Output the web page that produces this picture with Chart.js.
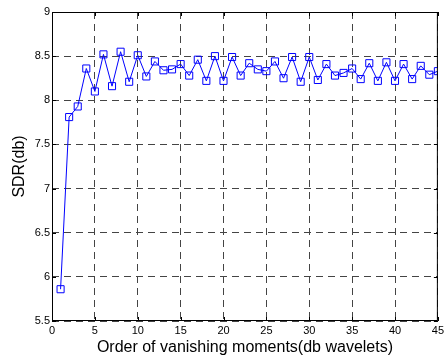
<!DOCTYPE html>
<html>
<head>
<meta charset="utf-8">
<script src="https://cdn.jsdelivr.net/npm/chart.js@4.4.0/dist/chart.umd.min.js"></script>
<style>
  html, body { margin: 0; padding: 0; background: #fff; }
  #wrap { width: 447px; height: 360px; }
</style>
</head>
<body>
<div id="wrap"><canvas id="sdr-chart"></canvas></div>
<script>
    // Data
    var orders = [1, 2, 3, 4, 5, 6, 7, 8, 9, 10, 11, 12, 13, 14, 15, 16, 17, 18, 19, 20, 21, 22, 23,
        24, 25, 26, 27, 28, 29, 30, 31, 32, 33, 34, 35, 36, 37, 38, 39, 40, 41, 42, 43, 44, 45];
    var sdrValues = [5.86, 7.81, 7.93, 8.36, 8.10, 8.52, 8.16, 8.55, 8.21, 8.51, 8.27, 8.44, 8.34, 8.35, 8.41,
        8.28, 8.46, 8.22, 8.50, 8.22, 8.49, 8.28, 8.42, 8.35, 8.33, 8.44, 8.25, 8.49, 8.21, 8.49,
        8.23, 8.41, 8.28, 8.31, 8.36, 8.24, 8.42, 8.22, 8.43, 8.22, 8.41, 8.24, 8.39, 8.29, 8.33];
    var xTicks = [0, 5, 10, 15, 20, 25, 30, 35, 40, 45];
    var yTicks = [5.5, 6, 6.5, 7, 7.5, 8, 8.5, 9];

    var points = orders.map(function (x, i) {
        return {x: x, y: sdrValues[i]};
    });

    // Box around the axes with inward ticks, like MATLAB
    var frame = {
        id: 'frame',
        afterDraw: function (chart) {
            var a = chart.chartArea;
            var ctx = chart.ctx;
            var sx = chart.scales.x, sy = chart.scales.y;
            ctx.save();
            ctx.strokeStyle = '#000';
            ctx.lineWidth = 1;
            ctx.setLineDash([]);
            ctx.strokeRect(a.left + 0.5, a.top + 0.5, a.right - a.left - 1, a.bottom - a.top - 1);
            ctx.beginPath();
            xTicks.forEach(function (v) {
                var px = Math.round(sx.getPixelForValue(v)) + 0.5;
                ctx.moveTo(px, a.bottom); ctx.lineTo(px, a.bottom - 4);
                ctx.moveTo(px, a.top); ctx.lineTo(px, a.top + 4);
            });
            yTicks.forEach(function (v) {
                var py = Math.round(sy.getPixelForValue(v)) + 0.5;
                ctx.moveTo(a.left, py); ctx.lineTo(a.left + 4, py);
                ctx.moveTo(a.right, py); ctx.lineTo(a.right - 4, py);
            });
            ctx.stroke();
            ctx.restore();
        }
    };

    var gridOpts = {
        color: '#444',
        lineWidth: 1,
        drawTicks: false,
        borderDash: [7, 5],
        tickBorderDash: [7, 5]
    };

    var ctx = document.getElementById('sdr-chart').getContext('2d');
    var myChart = new Chart(ctx, {
        type: 'line',
        data: {
            datasets: [{
                data: points,
                borderColor: '#0000ff',
                borderWidth: 1,
                pointStyle: 'rect',
                pointRadius: 5,
                pointBorderWidth: 1,
                pointBorderColor: '#0000ff',
                pointBackgroundColor: 'rgba(0,0,0,0)',
                fill: false,
                tension: 0
            }]
        },
        options: {
            responsive: true,
            maintainAspectRatio: false,
            animation: false,
            layout: {padding: {top: 12, right: 9, left: 0, bottom: 0}},
            plugins: {
                legend: {display: false},
                tooltip: {enabled: false}
            },
            scales: {
                x: {
                    type: 'linear',
                    min: 0,
                    max: 45,
                    afterBuildTicks: function (axis) {
                        axis.ticks = xTicks.map(function (v) { return {value: v}; });
                    },
                    afterFit: function (axis) { axis.height = 39; },
                    grid: gridOpts,
                    border: {display: false, dash: [7, 5]},
                    ticks: {
                        color: '#000',
                        font: {family: 'Liberation Sans, Arial', size: 11},
                        padding: 3,
                        maxRotation: 0,
                        callback: function (v) { return String(v); }
                    },
                    title: {
                        display: true,
                        text: 'Order of vanishing moments(db wavelets)',
                        color: '#000',
                        font: {family: 'Liberation Sans, Arial', size: 16},
                        padding: {top: 0, bottom: 3}
                    }
                },
                y: {
                    min: 5.5,
                    max: 9,
                    afterBuildTicks: function (axis) {
                        axis.ticks = yTicks.map(function (v) { return {value: v}; });
                    },
                    afterFit: function (axis) { axis.width = 52; },
                    grid: gridOpts,
                    border: {display: false, dash: [7, 5]},
                    ticks: {
                        color: '#000',
                        font: {family: 'Liberation Sans, Arial', size: 11},
                        padding: 2,
                        callback: function (v) { return String(v); }
                    },
                    title: {
                        display: true,
                        text: 'SDR(db)',
                        color: '#000',
                        font: {family: 'Liberation Sans, Arial', size: 16},
                        padding: {top: 10, bottom: 0}
                    }
                }
            }
        },
        plugins: [frame]
    });
</script>
</body>
</html>
